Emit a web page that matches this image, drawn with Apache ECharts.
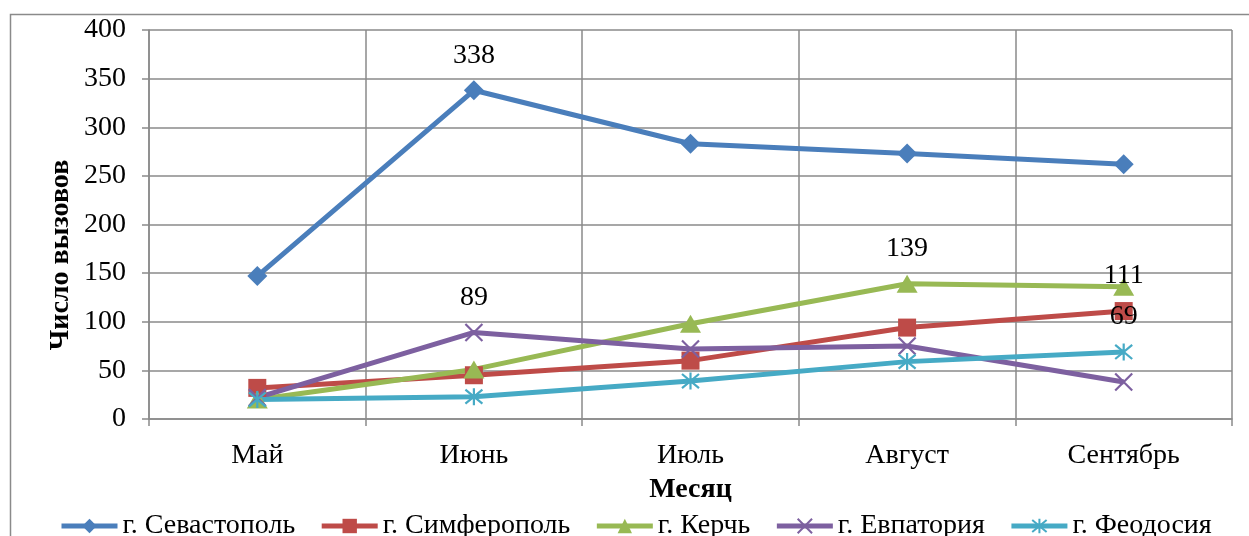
<!DOCTYPE html>
<html>
<head>
<meta charset="utf-8">
<script src="https://cdn.jsdelivr.net/npm/echarts@6/dist/echarts.min.js"></script>
<style>
  html, body { margin: 0; padding: 0; background: #fff; }
  #chart { width: 1249px; height: 536px; }
</style>
</head>
<body>
<div id="chart"></div>
<script>
// Monthly number of calls by city
const months = ['Май', 'Июнь', 'Июль', 'Август', 'Сентябрь'];
const yTicks = { min: 0, max: 400, step: 50 };

const sevastopol = [147, 338, 283, 273, 262];
const simferopol = [32, 45, 60, 94, 111];
const kerch = [20, 51, 98, 139, 136];
const evpatoria = [22, 89, 72, 75, 38];
const feodosia = [20, 23, 39, 59, 69];

const cityNames = ['г. Севастополь', 'г. Симферополь', 'г. Керчь', 'г. Евпатория', 'г. Феодосия'];
// indexes of the months whose value is printed above the point
const labelledSevastopol = [1];
const labelledSimferopol = [4];
const labelledKerch = [3];
const labelledEvpatoria = [1];
const labelledFeodosia = [4];

const FONT = '"Liberation Serif", "Times New Roman", serif';
const FONT_SIZE = 28;
const GRID_COLOR = '#8a8a8a';

const crossPath = 'path://M0,0L10,10M10,0L0,10';
const starPath = 'path://M0,0L10,10M10,0L0,10M5,-1L5,11';

function withLabels(values, labelled) {
  return values.map((v, i) => labelled.includes(i)
    ? { value: v, label: { show: true } }
    : v);
}

function makeSeries(name, values, labelled, color, symbol, size, stroked) {
  return {
    name: name,
    type: 'line',
    data: withLabels(values, labelled),
    symbol: symbol,
    symbolSize: size,
    showAllSymbol: true,
    lineStyle: { color: color, width: 5 },
    itemStyle: stroked
      ? { color: color, borderColor: color, borderWidth: 2.2 }
      : { color: color, borderWidth: 0 },
    label: {
      show: false,
      position: 'inside',
      offset: [0, -35],
      color: '#000',
      fontFamily: FONT,
      fontSize: FONT_SIZE
    },
    emphasis: { disabled: true },
    animation: false
  };
}

const chart = echarts.init(document.getElementById('chart'), null, { renderer: 'canvas' });

chart.setOption({
  backgroundColor: '#fff',
  animation: false,
  textStyle: { fontFamily: FONT },
  grid: { left: 149, right: 17, top: 30, bottom: 117, containLabel: false },
  graphic: [
    {
      type: 'rect',
      shape: { x: 10.5, y: 14.5, width: 1280, height: 600 },
      style: { fill: 'none', stroke: GRID_COLOR, lineWidth: 1.5 },
      silent: true,
      z: -10
    },
    {
      type: 'text',
      x: 61,
      y: 255,
      rotation: Math.PI / 2,
      style: {
        text: 'Число вызовов',
        fontFamily: FONT,
        fontSize: FONT_SIZE,
        fontWeight: 'bold',
        fill: '#000',
        align: 'center',
        verticalAlign: 'middle'
      },
      silent: true
    }
  ],
  legend: {
    left: 59,
    top: 512,
    padding: 0,
    itemWidth: 56,
    itemHeight: 18,
    itemGap: 24,
    lineStyle: { width: 5 },
    textStyle: { fontFamily: FONT, fontSize: FONT_SIZE, color: '#000' },
    data: cityNames
  },
  xAxis: {
    type: 'category',
    data: months,
    boundaryGap: true,
    name: 'Месяц',
    nameLocation: 'middle',
    nameGap: 57,
    nameTextStyle: { fontFamily: FONT, fontSize: FONT_SIZE, fontWeight: 'bold', color: '#000' },
    axisLine: { show: true, lineStyle: { color: GRID_COLOR, width: 1.5 } },
    axisTick: { show: true, length: 7, lineStyle: { color: GRID_COLOR, width: 1.5 } },
    axisLabel: { fontFamily: FONT, fontSize: FONT_SIZE, color: '#000', margin: 23 },
    splitLine: { show: true, lineStyle: { color: GRID_COLOR, width: 1.5 } }
  },
  yAxis: {
    type: 'value',
    min: yTicks.min,
    max: yTicks.max,
    interval: yTicks.step,
    axisLine: { show: true, lineStyle: { color: GRID_COLOR, width: 1.5 } },
    axisTick: { show: true, length: 7, lineStyle: { color: GRID_COLOR, width: 1.5 } },
    axisLabel: { fontFamily: FONT, fontSize: FONT_SIZE, color: '#000', margin: 23 },
    splitLine: { show: true, lineStyle: { color: GRID_COLOR, width: 1.5 } }
  },
  series: [
    makeSeries(cityNames[0], sevastopol, labelledSevastopol, '#4a7ebb', 'diamond', [20, 20], false),
    makeSeries(cityNames[1], simferopol, labelledSimferopol, '#be4b48', 'rect', 18, false),
    makeSeries(cityNames[2], kerch, labelledKerch, '#98b954', 'triangle', [21, 18], false),
    makeSeries(cityNames[3], evpatoria, labelledEvpatoria, '#7d60a0', crossPath, 17, true),
    makeSeries(cityNames[4], feodosia, labelledFeodosia, '#46aac5', starPath, 17, true)
  ]
});
</script>
</body>
</html>
